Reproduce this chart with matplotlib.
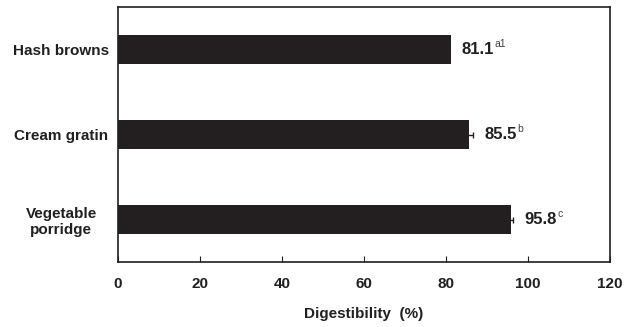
import numpy as np
import matplotlib.pyplot as plt

plt.rcParams['font.family'] = ['Liberation Sans', 'DejaVu Sans']

foods = ["Hash browns", "Cream gratin", "Vegetable\nporridge"]
digest = [81.1, 85.5, 95.8]
err = [0.0, 1.0, 0.6]
sup = ["a1", "b", "c"]

fig = plt.figure(figsize=(6.29, 3.27), dpi=100)
ax = fig.add_axes([118/629, 1-262/327, (610-118)/629, (262-7)/327])
ax.set_xlim(0, 120)
ax.set_ylim(2.5, -0.5)

y = np.arange(len(foods))
ax.barh(y, digest, height=0.34, color='#231f20')
for i in range(len(foods)):
    if err[i] > 0:
        ax.errorbar(digest[i], y[i], xerr=err[i], fmt='none', ecolor='#231f20',
                    elinewidth=1, capsize=2.5, capthick=1)

fig.canvas.draw()
rend = fig.canvas.get_renderer()
for i in range(len(foods)):
    x0 = digest[i] + err[i] + 2.8
    t = ax.text(x0, y[i], f"{digest[i]:.1f}", fontsize=12, fontweight='bold',
                color='#231f20', va='center', ha='left')
    bb = t.get_window_extent(renderer=rend)
    xd = ax.transData.inverted().transform((bb.x1, bb.y1))[0]
    ax.text(xd + 0.15, y[i] - 0.06, sup[i], fontsize=7.5, color='#404040',
            va='center', ha='left')

ax.set_xticks([0, 20, 40, 60, 80, 100, 120])
ax.set_yticks(y)
ax.set_yticklabels(foods, fontsize=11, fontweight='bold', color='#231f20',
                   ha='center')
ax.tick_params(axis='y', length=0, pad=41)
ax.tick_params(axis='x', direction='in', length=4, labelsize=11, pad=11,
               colors='#231f20')
for lab in ax.get_xticklabels():
    lab.set_fontweight('bold')
for s in ax.spines.values():
    s.set_linewidth(1.2)
    s.set_color('#231f20')
ax.set_xlabel("Digestibility  (%)", fontsize=11, fontweight='bold',
              color='#231f20', labelpad=11)

fig.savefig("out.png", dpi=100)
